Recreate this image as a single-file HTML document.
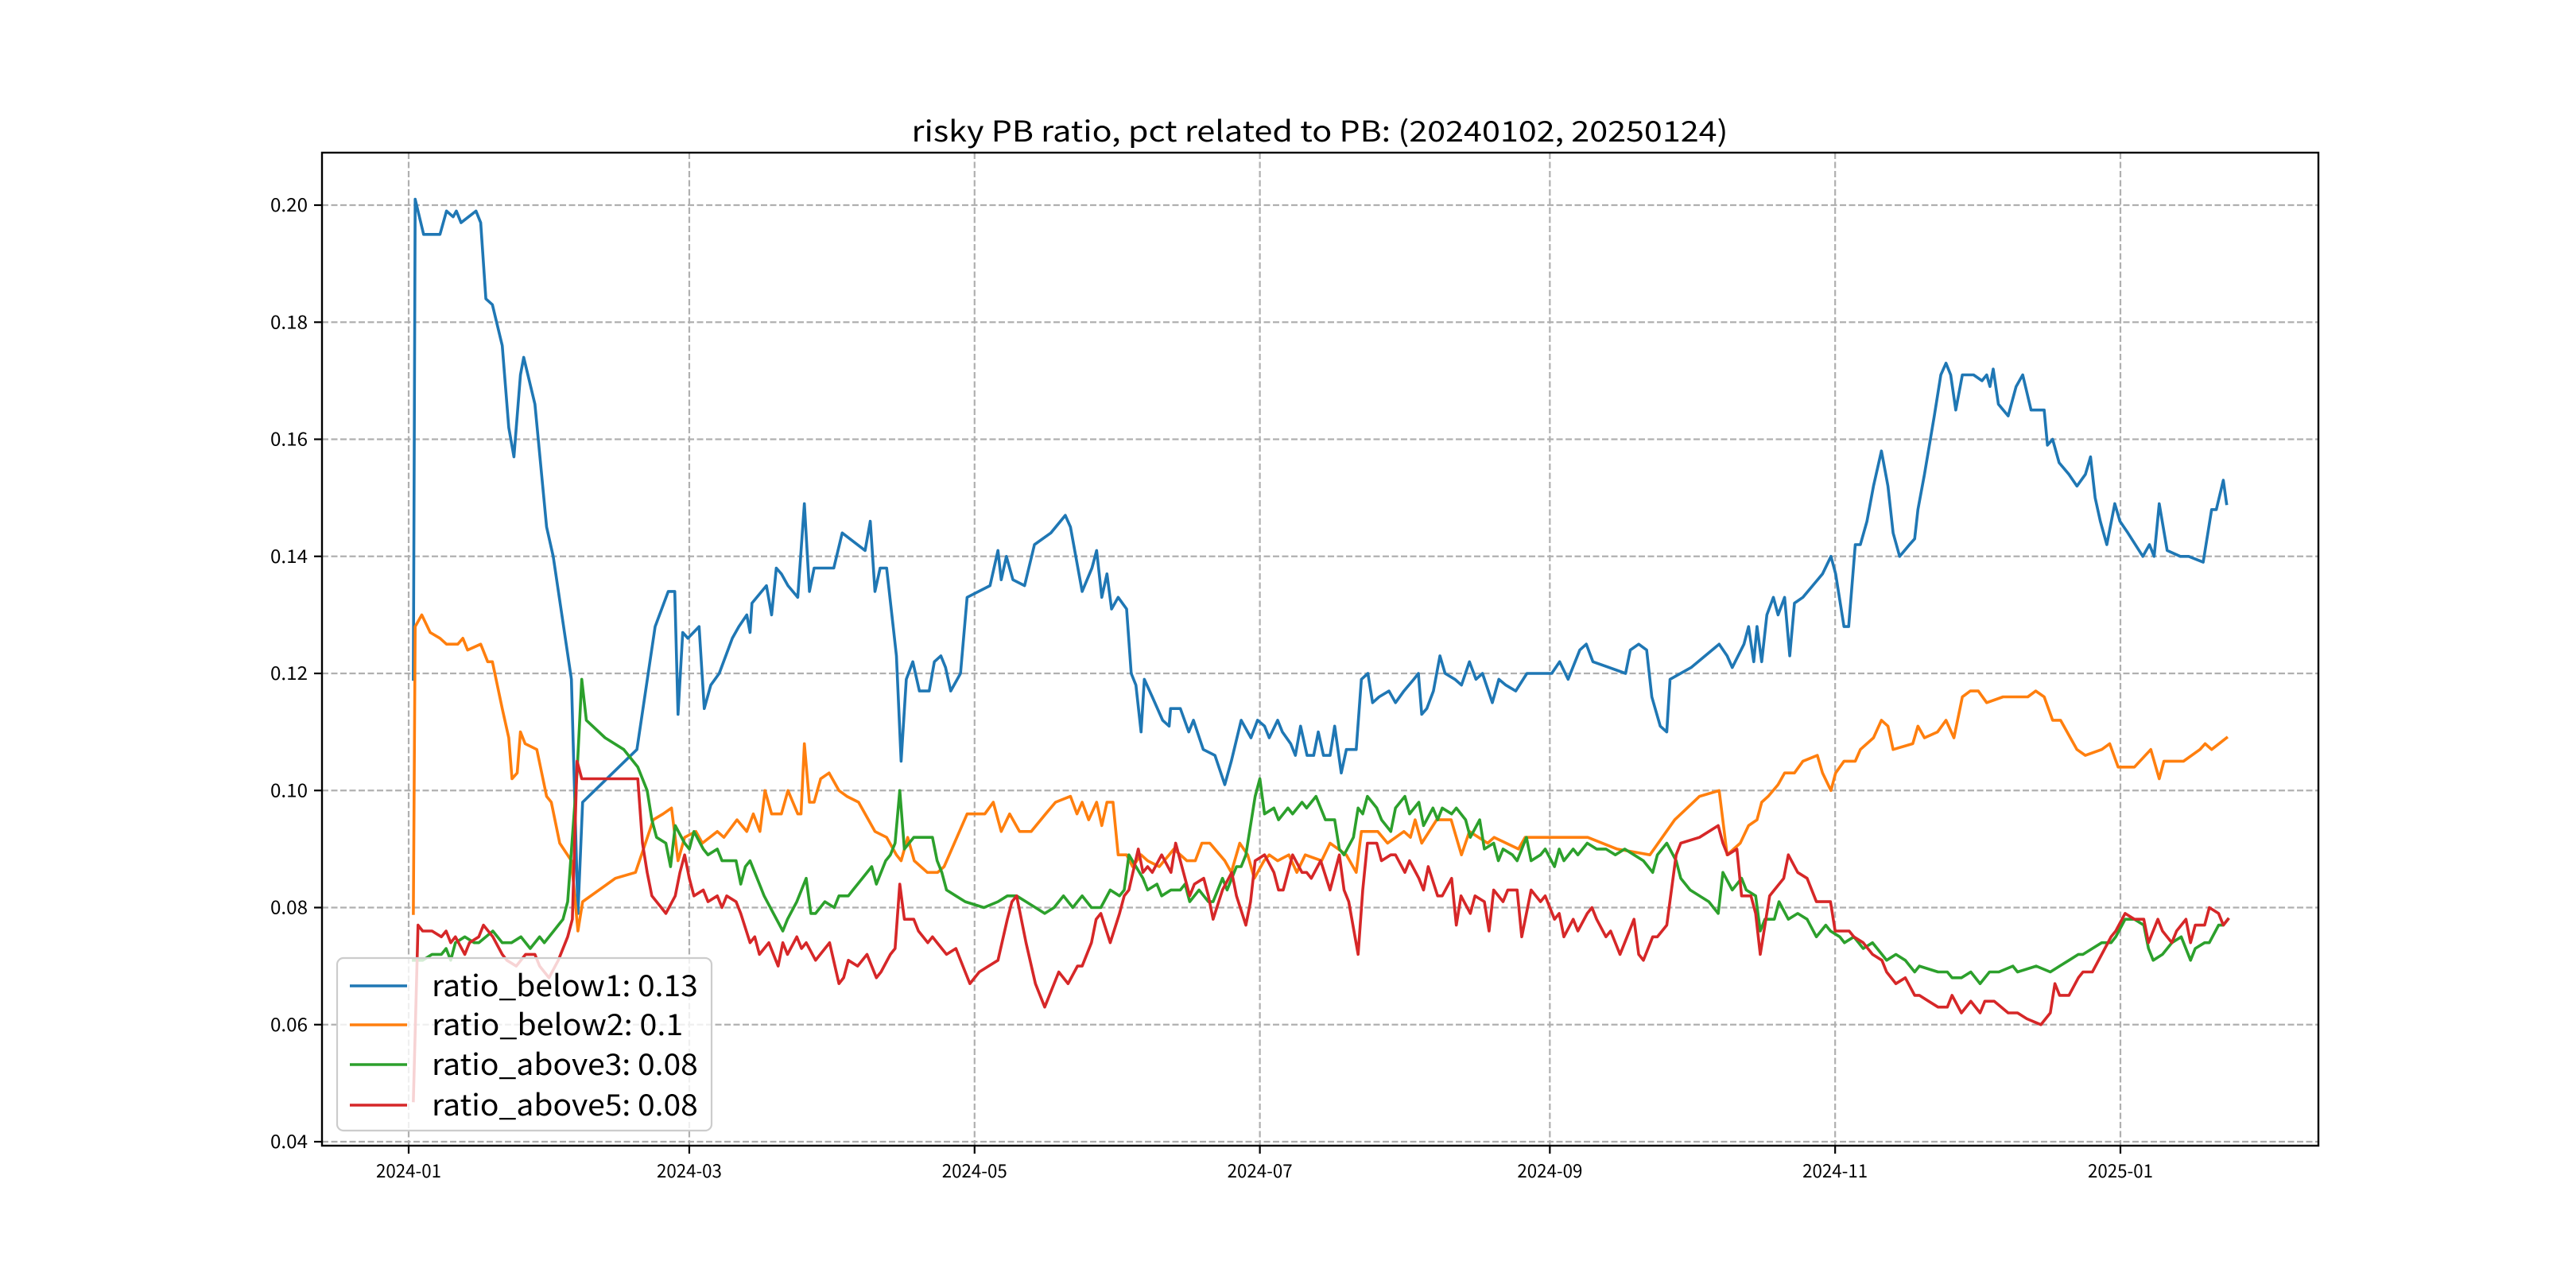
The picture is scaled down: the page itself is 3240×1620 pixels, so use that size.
<!DOCTYPE html>
<html><head><meta charset="utf-8"><style>
html,body{margin:0;padding:0;background:#fff;}
svg{display:block;}
text{font-family:"WenQuanYi Zen Hei","Noto Sans CJK SC",sans-serif;fill:#000;}
</style></head><body>
<svg id="chart" width="3240" height="1620" viewBox="0 0 3240 1620" xmlns="http://www.w3.org/2000/svg">
<rect width="3240" height="1620" fill="#fff"/>
<g id="grid"></g>
<g id="series"></g>
<g id="axes"></g>
<text x="1660" y="178" text-anchor="middle" font-size="36" textLength="1027" lengthAdjust="spacingAndGlyphs">risky PB ratio, pct related to PB: (20240102, 20250124)</text>
<g id="legend"></g>
</svg>
<script>
// x: days since 2024-01-01
const xTickLabels = ["2024-01","2024-03","2024-05","2024-07","2024-09","2024-11","2025-01"];
const xTickDays = [0,60,121,182,244,305,366];
const yTicks = [0.04,0.06,0.08,0.10,0.12,0.14,0.16,0.18,0.20];
const yTickLabels = ["0.04","0.06","0.08","0.10","0.12","0.14","0.16","0.18","0.20"];
const seriesNames = ["ratio_below1: 0.13","ratio_below2: 0.1","ratio_above3: 0.08","ratio_above5: 0.08"];
const seriesColors = ["#1f77b4","#ff7f0e","#2ca02c","#d62728"];

const below1 = [[1,0.119],[1.4,0.201],[3.2,0.195],[6.7,0.195],[8.1,0.199],[9.5,0.198],[10.2,0.199],[11.2,0.197],[14.4,0.199],[15.4,0.197],[16.5,0.184],[17.9,0.183],[20,0.176],[21.4,0.162],[22.5,0.157],[23.9,0.171],[24.6,0.174],[27,0.166],[29.5,0.145],[30.9,0.14],[34.8,0.119],[36.2,0.079],[37.2,0.098],[48.8,0.107],[52.7,0.128],[55.5,0.134],[56.9,0.134],[57.6,0.113],[58.6,0.127],[59.7,0.126],[62.1,0.128],[63.2,0.114],[64.6,0.118],[66.4,0.12],[69.2,0.126],[70.6,0.128],[72.3,0.13],[73,0.127],[73.4,0.132],[76.5,0.135],[77.6,0.13],[78.6,0.138],[79.7,0.137],[81.1,0.135],[83.2,0.133],[84.6,0.149],[85.7,0.134],[86.7,0.138],[90.9,0.138],[92.7,0.144],[97.6,0.141],[98.7,0.146],[99.7,0.134],[100.8,0.138],[102.2,0.138],[104.3,0.123],[105.3,0.105],[106.4,0.119],[107.8,0.122],[109.2,0.117],[111.3,0.117],[112.4,0.122],[113.8,0.123],[114.8,0.121],[115.9,0.117],[118,0.12],[119.4,0.133],[124.3,0.135],[126,0.141],[126.7,0.136],[127.8,0.14],[129.2,0.136],[131.7,0.135],[133.8,0.142],[137.3,0.144],[140.4,0.147],[141.5,0.145],[144,0.134],[146.1,0.138],[147.1,0.141],[148.2,0.133],[149.3,0.137],[150.3,0.131],[151.7,0.133],[153.5,0.131],[154.5,0.12],[155.5,0.118],[156.6,0.11],[157.3,0.119],[159,0.116],[161.2,0.112],[162.6,0.111],[162.9,0.114],[165,0.114],[166.8,0.11],[167.8,0.112],[169.9,0.107],[172.4,0.106],[174.5,0.101],[175.9,0.105],[178,0.112],[180.1,0.109],[181.5,0.112],[183,0.111],[184,0.109],[185.8,0.112],[186.8,0.11],[188.6,0.108],[189.6,0.106],[190.7,0.111],[192.1,0.106],[193.5,0.106],[194.5,0.11],[195.6,0.106],[197,0.106],[198,0.111],[199.4,0.103],[200.5,0.107],[202.6,0.107],[203.7,0.119],[205.1,0.12],[206.1,0.115],[207.5,0.116],[209.6,0.117],[211,0.115],[212.8,0.117],[214.9,0.119],[215.9,0.12],[216.6,0.113],[217.7,0.114],[219.1,0.117],[220.5,0.123],[221.6,0.12],[223.7,0.119],[225.1,0.118],[226.8,0.122],[228.2,0.119],[229.6,0.12],[231.7,0.115],[233.1,0.119],[234.6,0.118],[236.7,0.117],[239.1,0.12],[244.4,0.12],[246.1,0.122],[247.9,0.119],[250.4,0.124],[251.8,0.125],[253.2,0.122],[256.7,0.121],[260.2,0.12],[261.2,0.124],[263,0.125],[264.7,0.124],[265.8,0.116],[267.6,0.111],[269,0.11],[269.7,0.119],[274.2,0.121],[280.2,0.125],[281.9,0.123],[283,0.121],[285.5,0.125],[286.5,0.128],[287.6,0.122],[288.3,0.128],[289.3,0.122],[290.4,0.13],[291.8,0.133],[292.8,0.13],[294.2,0.133],[295.3,0.123],[296.3,0.132],[298.1,0.133],[300.2,0.135],[302.3,0.137],[304.1,0.14],[305.1,0.137],[306.9,0.128],[307.9,0.128],[309.3,0.142],[310.4,0.142],[311.8,0.146],[313.2,0.152],[314.9,0.158],[316.3,0.152],[317.4,0.144],[318.8,0.14],[320.9,0.142],[322,0.143],[322.7,0.148],[324.1,0.154],[326.2,0.164],[327.6,0.171],[328.7,0.173],[329.7,0.171],[330.8,0.165],[332.2,0.171],[333.6,0.171],[334.6,0.171],[336.4,0.17],[337.4,0.171],[338.1,0.169],[338.8,0.172],[339.9,0.166],[342,0.164],[343.7,0.169],[345.1,0.171],[346.9,0.165],[349.7,0.165],[350.4,0.159],[351.5,0.16],[352.9,0.156],[355,0.154],[356.7,0.152],[358.5,0.154],[359.6,0.157],[360.6,0.15],[361.7,0.146],[363.1,0.142],[364.8,0.149],[365.9,0.146],[367.6,0.144],[370.8,0.14],[372.2,0.142],[373.2,0.14],[374.3,0.149],[376,0.141],[378.8,0.14],[380.6,0.14],[383.7,0.139],[385.5,0.148],[386.5,0.148],[388,0.153],[388.7,0.149]];

const below2 = [[1,0.079],[1.4,0.128],[2.8,0.130],[4.6,0.127],[6.7,0.126],[8.1,0.125],[10.5,0.125],[11.6,0.126],[12.6,0.124],[15.4,0.125],[16.9,0.122],[17.9,0.122],[20,0.114],[21.4,0.109],[22.1,0.102],[23.2,0.103],[23.9,0.110],[24.9,0.108],[27.4,0.107],[29.5,0.099],[30.5,0.098],[32.3,0.091],[34.8,0.088],[36.2,0.076],[37.2,0.081],[44.2,0.085],[48.5,0.086],[50.2,0.090],[52.3,0.095],[54.4,0.096],[56.2,0.097],[57.6,0.088],[59,0.092],[61.4,0.093],[62.8,0.091],[66,0.093],[67.4,0.092],[70.2,0.095],[72.3,0.093],[73.7,0.096],[75.1,0.093],[76.2,0.100],[77.6,0.096],[79.7,0.096],[81.1,0.100],[83.2,0.096],[83.9,0.096],[84.6,0.108],[85.7,0.098],[86.7,0.098],[88.1,0.102],[89.9,0.103],[92,0.100],[93.7,0.099],[96.2,0.098],[99.7,0.093],[102.2,0.092],[104.3,0.089],[105.3,0.088],[106.7,0.092],[108.1,0.088],[110.9,0.086],[113.1,0.086],[114.5,0.087],[119.4,0.096],[123.2,0.096],[125,0.098],[126.7,0.093],[128.5,0.096],[130.6,0.093],[133.1,0.093],[136.2,0.096],[138.3,0.098],[141.5,0.099],[142.9,0.096],[144,0.098],[145.4,0.095],[147.1,0.098],[148.2,0.094],[149.3,0.098],[150.6,0.098],[151.7,0.089],[153.5,0.089],[154.8,0.087],[156.6,0.089],[158,0.088],[160.5,0.087],[162.6,0.089],[163.6,0.090],[166.4,0.088],[168.2,0.088],[169.6,0.091],[171.3,0.091],[174.5,0.088],[175.9,0.086],[177.7,0.091],[179.4,0.089],[180.8,0.085],[182.9,0.088],[184,0.089],[185.8,0.088],[188.2,0.089],[189.9,0.086],[191.7,0.089],[195.2,0.088],[197,0.091],[200.5,0.089],[202.6,0.086],[203.7,0.093],[207.2,0.093],[209.3,0.091],[212.8,0.093],[214.2,0.092],[215.2,0.095],[216.6,0.091],[219.8,0.095],[222.9,0.095],[225.1,0.089],[226.8,0.093],[230.7,0.091],[232.1,0.092],[237.3,0.090],[238.7,0.092],[252.1,0.092],[258.4,0.090],[265.4,0.089],[270.7,0.095],[276,0.099],[280.2,0.100],[281.9,0.089],[284.7,0.091],[286.5,0.094],[288.3,0.095],[289.3,0.098],[290.7,0.099],[292.8,0.101],[294.2,0.103],[296.3,0.103],[298.1,0.105],[301.2,0.106],[302.3,0.103],[304.1,0.100],[305.1,0.103],[306.9,0.105],[309.3,0.105],[310.4,0.107],[313.2,0.109],[314.9,0.112],[316.3,0.111],[317.4,0.107],[321.6,0.108],[322.7,0.111],[324.1,0.109],[326.9,0.110],[328.7,0.112],[330.4,0.109],[332.2,0.116],[333.9,0.117],[335.6,0.117],[337.4,0.115],[340.9,0.116],[346.2,0.116],[347.9,0.117],[349.7,0.116],[351.5,0.112],[353.2,0.112],[356.7,0.107],[358.5,0.106],[362,0.107],[363.7,0.108],[365.5,0.104],[369,0.104],[372.5,0.107],[374.3,0.102],[375.3,0.105],[379.5,0.105],[383,0.107],[384.1,0.108],[385.5,0.107],[388.7,0.109]];

const above3 = [[1,0.071],[3,0.071],[5,0.072],[7,0.072],[8,0.073],[9,0.071],[10,0.074],[12,0.075],[14,0.074],[15,0.074],[18,0.076],[20,0.074],[22,0.074],[24,0.075],[26,0.073],[28,0.075],[29,0.074],[31,0.076],[32,0.077],[33,0.078],[34,0.081],[35,0.092],[36,0.103],[37,0.119],[38,0.112],[42,0.109],[46,0.107],[49,0.104],[51,0.100],[52,0.095],[53,0.092],[55,0.091],[56,0.087],[57,0.094],[59,0.091],[60,0.090],[61,0.093],[63,0.090],[64,0.089],[66,0.090],[67,0.088],[70,0.088],[71,0.084],[72,0.087],[73,0.088],[75,0.084],[76,0.082],[78,0.079],[80,0.076],[81,0.078],[83,0.081],[85,0.085],[86,0.079],[87,0.079],[89,0.081],[91,0.080],[92,0.082],[94,0.082],[95,0.083],[97,0.085],[99,0.087],[100,0.084],[102,0.088],[103,0.089],[104,0.091],[105,0.100],[106,0.090],[108,0.092],[112,0.092],[113,0.088],[114,0.086],[115,0.083],[117,0.082],[119,0.081],[123,0.080],[126,0.081],[128,0.082],[130,0.082],[132,0.081],[134,0.080],[136,0.079],[138,0.080],[140,0.082],[142,0.080],[144,0.082],[146,0.080],[148,0.080],[150,0.083],[152,0.082],[153,0.083],[154,0.089],[157,0.085],[158,0.083],[160,0.084],[161,0.082],[163,0.083],[165,0.083],[166,0.084],[167,0.081],[169,0.083],[171,0.081],[172,0.081],[174,0.085],[175,0.083],[177,0.087],[178,0.087],[179,0.089],[181,0.099],[182,0.102],[183,0.096],[185,0.097],[186,0.095],[188,0.097],[189,0.096],[191,0.098],[192,0.097],[194,0.099],[196,0.095],[198,0.095],[199,0.090],[200,0.089],[202,0.092],[203,0.097],[204,0.096],[205,0.099],[207,0.097],[208,0.095],[210,0.093],[211,0.097],[213,0.099],[214,0.096],[216,0.098],[217,0.094],[219,0.097],[220,0.095],[221,0.097],[223,0.096],[224,0.097],[226,0.095],[227,0.092],[229,0.095],[230,0.090],[232,0.091],[233,0.088],[234,0.090],[236,0.089],[237,0.088],[239,0.092],[240,0.088],[242,0.089],[243,0.090],[245,0.087],[246,0.090],[247,0.088],[249,0.090],[250,0.089],[252,0.091],[254,0.090],[256,0.090],[258,0.089],[260,0.090],[262,0.089],[264,0.088],[266,0.086],[267,0.089],[269,0.091],[271,0.088],[272,0.085],[274,0.083],[278,0.081],[280,0.079],[281,0.086],[283,0.083],[285,0.085],[286,0.083],[288,0.082],[289,0.076],[290,0.078],[292,0.078],[293,0.081],[295,0.078],[297,0.079],[299,0.078],[301,0.075],[303,0.077],[304,0.076],[306,0.075],[307,0.074],[309,0.075],[311,0.073],[313,0.074],[315,0.072],[316,0.071],[318,0.072],[320,0.071],[322,0.069],[323,0.070],[327,0.069],[329,0.069],[330,0.068],[332,0.068],[334,0.069],[336,0.067],[338,0.069],[340,0.069],[343,0.070],[344,0.069],[348,0.070],[351,0.069],[353,0.070],[355,0.071],[357,0.072],[358,0.072],[360,0.073],[362,0.074],[364,0.074],[365,0.075],[367,0.078],[369,0.078],[371,0.077],[372,0.073],[373,0.071],[375,0.072],[377,0.074],[379,0.075],[381,0.071],[382,0.073],[384,0.074],[385,0.074],[387,0.077],[388,0.077],[389,0.078]];

const above5 = [[1,0.047],[2,0.077],[3,0.076],[5,0.076],[7,0.075],[8,0.076],[9,0.074],[10,0.075],[12,0.072],[13,0.074],[15,0.075],[16,0.077],[18,0.075],[20,0.072],[21,0.071],[23,0.070],[25,0.072],[27,0.072],[28,0.070],[30,0.068],[32,0.071],[34,0.075],[35,0.078],[36,0.105],[37,0.102],[42,0.102],[49,0.102],[50,0.091],[51,0.086],[52,0.082],[54,0.080],[55,0.079],[57,0.082],[58,0.086],[59,0.089],[60,0.085],[61,0.082],[63,0.083],[64,0.081],[66,0.082],[67,0.080],[68,0.082],[70,0.081],[71,0.079],[73,0.074],[74,0.075],[75,0.072],[77,0.074],[79,0.070],[80,0.074],[81,0.072],[83,0.075],[84,0.073],[85,0.074],[87,0.071],[88,0.072],[90,0.074],[92,0.067],[93,0.068],[94,0.071],[96,0.070],[98,0.072],[100,0.068],[101,0.069],[103,0.072],[104,0.073],[105,0.084],[106,0.078],[108,0.078],[109,0.076],[111,0.074],[112,0.075],[113,0.074],[115,0.072],[117,0.073],[119,0.069],[120,0.067],[122,0.069],[124,0.070],[126,0.071],[128,0.078],[129,0.081],[130,0.082],[132,0.074],[134,0.067],[136,0.063],[139,0.069],[141,0.067],[143,0.070],[144,0.070],[146,0.074],[147,0.078],[148,0.079],[150,0.074],[152,0.079],[153,0.082],[154,0.083],[156,0.090],[157,0.086],[158,0.087],[159,0.086],[161,0.089],[163,0.086],[164,0.091],[165,0.088],[167,0.082],[168,0.084],[170,0.085],[171,0.082],[172,0.078],[174,0.083],[176,0.086],[177,0.082],[179,0.077],[180,0.081],[181,0.088],[183,0.089],[185,0.086],[186,0.083],[187,0.083],[189,0.089],[191,0.086],[192,0.086],[193,0.085],[195,0.088],[197,0.083],[199,0.089],[200,0.083],[201,0.081],[203,0.072],[204,0.083],[205,0.091],[207,0.091],[208,0.088],[210,0.089],[211,0.089],[213,0.086],[214,0.088],[216,0.085],[217,0.083],[218,0.087],[220,0.082],[221,0.082],[223,0.085],[224,0.077],[225,0.082],[227,0.079],[228,0.082],[230,0.081],[231,0.076],[232,0.083],[234,0.081],[235,0.083],[237,0.083],[238,0.075],[239,0.079],[240,0.083],[242,0.081],[243,0.082],[245,0.078],[246,0.079],[247,0.075],[249,0.078],[250,0.076],[252,0.079],[253,0.080],[254,0.078],[256,0.075],[257,0.076],[259,0.072],[260,0.074],[262,0.078],[263,0.072],[264,0.071],[266,0.075],[267,0.075],[269,0.077],[271,0.089],[272,0.091],[276,0.092],[280,0.094],[281,0.091],[282,0.089],[284,0.090],[285,0.082],[287,0.082],[288,0.079],[289,0.072],[291,0.082],[292,0.083],[294,0.085],[295,0.089],[297,0.086],[299,0.085],[301,0.081],[302,0.081],[304,0.081],[305,0.076],[307,0.076],[308,0.076],[309,0.075],[311,0.074],[313,0.072],[315,0.071],[316,0.069],[318,0.067],[320,0.068],[322,0.065],[323,0.065],[325,0.064],[327,0.063],[329,0.063],[330,0.065],[332,0.062],[334,0.064],[336,0.062],[337,0.064],[339,0.064],[342,0.062],[344,0.062],[346,0.061],[349,0.060],[351,0.062],[352,0.067],[353,0.065],[355,0.065],[357,0.068],[358,0.069],[360,0.069],[362,0.072],[364,0.075],[365,0.076],[367,0.079],[369,0.078],[371,0.078],[372,0.074],[374,0.078],[375,0.076],[377,0.074],[378,0.076],[380,0.078],[381,0.074],[382,0.077],[384,0.077],[385,0.080],[387,0.079],[388,0.077],[389,0.078]];

const allSeries = [below1, below2, above3, above5];
const seriesKeys = ["ratio-below1","ratio-below2","ratio-above3","ratio-above5"];

const NS = "http://www.w3.org/2000/svg";
const L = 405, R = 2916, T = 192, B = 1441;
function xScale(d){ return 514 + d * (2667 - 514) / 366; }
function yScale(v){ return 258 + (0.20 - v) * (1436 - 258) / 0.16; }
function mk(tag, attrs, parent){ const e = document.createElementNS(NS, tag); for (const k in attrs) e.setAttribute(k, attrs[k]); parent.appendChild(e); return e; }

const grid = document.getElementById('grid');
const axes = document.getElementById('axes');
const seriesG = document.getElementById('series');
const legend = document.getElementById('legend');

xTickDays.forEach((d, i) => {
  const x = xScale(d);
  const gl = mk('line', {x1:x, x2:x, y1:T, y2:B, stroke:'#b0b0b0', 'stroke-width':2.2, 'stroke-dasharray':'8 3.5'}, grid);
  
  
  const tk = mk('line', {x1:x, x2:x, y1:B, y2:B+10, stroke:'#000', 'stroke-width':2.2}, axes);
  
  
  const t = mk('text', {x:x, y:B+40, 'text-anchor':'middle', 'font-size':23, textLength:82, lengthAdjust:'spacingAndGlyphs'}, axes);
  t.textContent = xTickLabels[i];
  
  
});
yTicks.forEach((v, i) => {
  const y = yScale(v);
  const gl = mk('line', {x1:L, x2:R, y1:y, y2:y, stroke:'#b0b0b0', 'stroke-width':2.2, 'stroke-dasharray':'8 3.5'}, grid);
  
  
  const tk = mk('line', {x1:L-10, x2:L, y1:y, y2:y, stroke:'#000', 'stroke-width':2.2}, axes);
  
  
  const t = mk('text', {x:L-18, y:y+8, 'text-anchor':'end', 'font-size':23, textLength:47, lengthAdjust:'spacingAndGlyphs'}, axes);
  t.textContent = yTickLabels[i];
  
  
});
const frame = mk('rect', {x:L, y:T, width:R-L, height:B-T, fill:'none', stroke:'#000', 'stroke-width':2.4}, axes);



allSeries.forEach((s, i) => {
  const d = s.map((p, j) => (j ? 'L' : 'M') + xScale(p[0]).toFixed(1) + ' ' + yScale(p[1]).toFixed(1)).join(' ');
  const path = mk('path', {d:d, fill:'none', stroke:seriesColors[i], 'stroke-width':3.6, 'stroke-linejoin':'round', 'stroke-linecap':'square'}, seriesG);
  
  
});

const lb = mk('rect', {x:424, y:1205, width:471, height:217, rx:8, fill:'#fff', 'fill-opacity':0.8, stroke:'#cccccc', 'stroke-width':2.2}, legend);


const rowY = [1240, 1289, 1339, 1390];
seriesNames.forEach((n, i) => {
  const ln = mk('line', {x1:440, x2:512, y1:rowY[i], y2:rowY[i], stroke:seriesColors[i], 'stroke-width':3.6}, legend);
  
  
  const t = mk('text', {x:543, y:rowY[i]+13, 'font-size':37, textLength:n.length*18.6, lengthAdjust:'spacingAndGlyphs'}, legend);
  t.textContent = n;
  
  
});
</script>
</body></html>
